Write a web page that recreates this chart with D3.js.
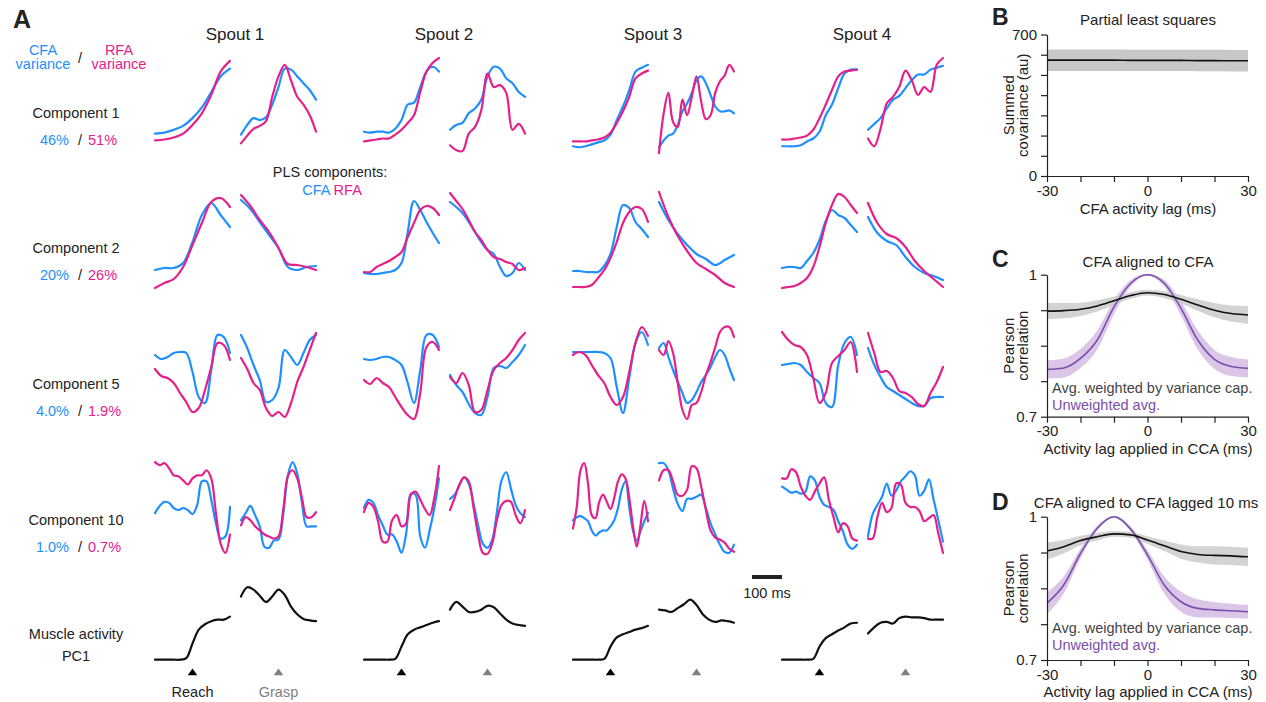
<!DOCTYPE html>
<html>
<head>
<meta charset="utf-8">
<script src="https://cdn.jsdelivr.net/npm/d3@7"></script>
<style>
  body { margin: 0; background: #fff; }
  text { font-family: "Liberation Sans", Arial, sans-serif; fill: #222; }
</style>
</head>
<body>
<svg id="fig" width="1266" height="702"></svg>
<script>
// ---- panel A labels
const SPOUTS = ['Spout 1', 'Spout 2', 'Spout 3', 'Spout 4']
const ROW_LABELS = ['Component 1', 'Component 2', 'Component 5', 'Component 10']
const CFA_VAR = ['46%', '20%', '4.0%', '1.0%']
const RFA_VAR = ['51%', '26%', '1.9%', '0.7%']

// ---- panel A traces, 0-100 within each row, segments: s1 reach, s1 grasp, s2 reach, ...
const comp1Cfa = [
  [22, 23, 26, 30, 38, 49, 65, 81, 89],
  [21, 31, 38, 36, 39, 52, 70, 89, 88, 81, 74, 67, 57],
  [24, 23, 24, 24, 23, 27, 36, 52, 54, 70, 86, 91, 86],
  [26, 31, 33, 43, 48, 57, 81, 91, 89, 79, 74, 65, 60],
  [9, 8, 9, 11, 13, 15, 21, 36, 50, 67, 86, 90, 93],
  [8, 15, 20, 22, 31, 45, 53, 64, 77, 81, 74, 62, 50, 45, 45, 46, 43],
  [9, 9, 9, 10, 14, 17, 24, 41, 52, 69, 84, 88, 88],
  [26, 32, 38, 48, 57, 61, 69, 77, 83, 83, 88, 90, 92]
]
const comp1Rfa = [
  [15, 16, 18, 22, 31, 43, 62, 86, 97],
  [12, 20, 27, 30, 35, 60, 81, 93, 77, 60, 52, 41, 24],
  [14, 15, 16, 17, 17, 21, 26, 33, 41, 65, 86, 95, 100],
  [10, 5, 4, 22, 29, 46, 84, 70, 72, 64, 26, 32, 22],
  [14, 14, 14, 15, 16, 18, 23, 33, 45, 60, 79, 84, 87],
  [2, 43, 64, 34, 29, 57, 41, 60, 81, 55, 37, 41, 64, 76, 82, 93, 86],
  [16, 16, 17, 18, 20, 26, 38, 52, 67, 81, 86, 87, 88],
  [17, 9, 27, 53, 60, 70, 87, 77, 62, 70, 65, 93, 100]
]
const comp2Cfa = [
  [20, 22, 22, 27, 48, 75, 87, 75, 63],
  [90, 81, 68, 55, 42, 23, 20, 23, 24],
  [17, 16, 16, 17, 18, 20, 27, 58, 89, 80, 68, 57, 47],
  [88, 83, 77, 68, 58, 48, 40, 36, 23, 14, 17, 27, 20],
  [19, 19, 18, 18, 18, 24, 36, 63, 85, 82, 68, 61, 53],
  [88, 70, 56, 45, 36, 31, 25, 30, 35],
  [22, 23, 23, 22, 29, 37, 50, 69, 80, 75, 72, 65, 58],
  [73, 57, 49, 45, 33, 23, 17, 14, 10]
]
const comp2Rfa = [
  [2, 7, 11, 23, 45, 67, 88, 92, 83],
  [95, 84, 70, 58, 42, 26, 25, 23, 20],
  [18, 18, 23, 26, 29, 33, 38, 53, 67, 80, 84, 82, 75],
  [97, 89, 81, 70, 58, 50, 40, 33, 31, 28, 26, 20, 22],
  [3, 3, 3, 5, 12, 20, 32, 48, 67, 78, 83, 81, 68],
  [98, 73, 54, 39, 27, 21, 15, 7, 3],
  [2, 3, 4, 7, 12, 23, 43, 67, 85, 96, 93, 85, 77],
  [87, 67, 56, 52, 43, 29, 19, 11, 3]
]
const comp5Cfa = [
  [70, 66, 68, 72, 73, 72, 53, 28, 22, 55, 90, 88, 72],
  [90, 77, 60, 45, 23, 25, 37, 75, 68, 60, 72, 85, 90],
  [66, 65, 66, 68, 68, 65, 60, 42, 22, 55, 90, 90, 78],
  [50, 40, 33, 21, 12, 10, 28, 57, 59, 57, 63, 70, 80],
  [73, 73, 73, 73, 73, 72, 67, 38, 12, 47, 82, 93, 80],
  [77, 82, 68, 55, 43, 32, 22, 25, 33, 43, 50, 58, 68, 75, 70, 57, 45],
  [60, 61, 62, 60, 53, 47, 42, 22, 18, 60, 82, 88, 70],
  [77, 60, 48, 38, 34, 30, 26, 22, 19, 19, 27, 28, 28]
]
const comp5Rfa = [
  [56, 49, 47, 42, 32, 23, 13, 17, 35, 58, 82, 80, 65],
  [67, 56, 42, 35, 17, 9, 13, 8, 22, 43, 58, 75, 92],
  [45, 41, 47, 42, 38, 28, 18, 10, 6, 32, 78, 83, 75],
  [48, 42, 52, 40, 13, 15, 35, 55, 62, 67, 75, 85, 92],
  [70, 73, 70, 60, 50, 42, 28, 20, 28, 53, 82, 98, 89],
  [75, 70, 84, 72, 42, 15, 6, 20, 22, 33, 50, 63, 78, 93, 98, 98, 88],
  [93, 85, 80, 78, 70, 47, 22, 32, 62, 69, 75, 83, 53],
  [92, 72, 53, 54, 47, 34, 32, 28, 21, 19, 32, 43, 58]
]
const comp10Cfa = [
  [46, 53, 57, 56, 51, 49, 51, 49, 45, 54, 77, 77, 59, 36, 21, 23, 52],
  [39, 46, 53, 44, 33, 13, 12, 19, 20, 44, 83, 96, 85, 56, 33, 33, 33],
  [51, 59, 56, 44, 34, 25, 25, 18, 7, 26, 65, 64, 23, 12, 29, 51, 80],
  [60, 64, 73, 81, 75, 56, 34, 16, 12, 20, 47, 78, 86, 70, 54, 46, 42],
  [39, 42, 43, 41, 38, 29, 24, 27, 29, 29, 33, 39, 51, 69, 77, 52, 29, 19, 28, 38, 46],
  [95, 95, 88, 70, 55, 48, 60, 60, 62, 64, 51, 36, 25, 15, 8, 7, 15],
  [72, 69, 66, 67, 65, 67, 82, 78, 62, 54, 52, 49, 38, 28, 15, 11, 15],
  [23, 45, 54, 62, 75, 63, 68, 77, 82, 87, 83, 63, 68, 79, 59, 39, 18]
]
const comp10Rfa = [
  [96, 93, 95, 90, 83, 82, 78, 74, 80, 83, 83, 88, 80, 46, 16, 7, 25],
  [34, 42, 39, 33, 29, 25, 23, 21, 23, 49, 82, 88, 80, 61, 42, 42, 47],
  [47, 56, 52, 38, 18, 18, 39, 44, 33, 36, 64, 67, 59, 50, 44, 61, 92],
  [49, 61, 74, 81, 77, 52, 25, 7, 6, 16, 39, 54, 58, 57, 44, 36, 49],
  [31, 52, 88, 95, 75, 44, 41, 57, 64, 57, 50, 61, 77, 84, 80, 61, 33, 13, 34, 58, 38],
  [78, 88, 88, 77, 64, 63, 69, 92, 90, 72, 49, 29, 22, 20, 17, 11, 8],
  [80, 80, 89, 86, 72, 63, 59, 67, 75, 81, 59, 42, 27, 36, 33, 21, 19],
  [21, 21, 42, 56, 47, 51, 75, 74, 56, 52, 52, 48, 38, 41, 44, 26, 7]
]
const musclePc1 = [
  [3, 3, 3, 3, 3, 5, 24, 42, 49, 53, 55, 55, 59],
  [85, 97, 94, 86, 78, 85, 94, 87, 72, 62, 56, 54, 53],
  [3, 3, 3, 3, 3, 4, 20, 36, 42, 45, 48, 51, 53],
  [68, 78, 72, 65, 65, 68, 73, 71, 63, 55, 50, 48, 47],
  [3, 3, 3, 3, 3, 4, 20, 32, 36, 39, 42, 44, 47],
  [68, 67, 65, 70, 75, 81, 74, 62, 55, 52, 54, 53, 51],
  [3, 3, 3, 3, 3, 4, 20, 31, 36, 41, 45, 50, 51],
  [37, 45, 51, 52, 50, 57, 59, 58, 58, 57, 55, 55, 55]
]

// ---- panels B-D
const lagMs = [-30, -25, -20, -15, -10, -5, 0, 5, 10, 15, 20, 25, 30]
const plsMean = [573, 573, 573, 573, 573, 572, 572, 572, 572, 571, 571, 570, 570]
const plsLo = [520, 520, 520, 520, 520, 519, 519, 519, 519, 518, 518, 517, 517]
const plsHi = [626, 626, 626, 626, 626, 625, 625, 625, 625, 624, 624, 623, 623]

const ccaWeighted = [0.923, 0.924, 0.927, 0.934, 0.945, 0.956, 0.962, 0.958, 0.948, 0.936, 0.925, 0.918, 0.915]
const ccaWeightedSe = [0.017, 0.016, 0.014, 0.012, 0.009, 0.007, 0.006, 0.007, 0.009, 0.012, 0.015, 0.017, 0.019]
const ccaUnweighted = [0.800, 0.803, 0.823, 0.862, 0.932, 0.982, 1.0, 0.982, 0.929, 0.862, 0.821, 0.806, 0.802]
const ccaUnweightedSe = [0.019, 0.02, 0.02, 0.02, 0.015, 0.007, 0.002, 0.007, 0.015, 0.02, 0.02, 0.02, 0.019]

const lagWeighted = [0.928, 0.937, 0.950, 0.958, 0.964, 0.962, 0.951, 0.939, 0.927, 0.921, 0.919, 0.918, 0.916]
const lagWeightedSe = [0.018, 0.014, 0.01, 0.008, 0.006, 0.006, 0.008, 0.011, 0.015, 0.017, 0.019, 0.019, 0.019]
const lagUnweighted = [0.819, 0.857, 0.923, 0.976, 1.0, 0.974, 0.92, 0.857, 0.822, 0.808, 0.805, 0.803, 0.801]
const lagUnweightedSe = [0.023, 0.018, 0.01, 0.005, 0.002, 0.005, 0.01, 0.018, 0.021, 0.019, 0.016, 0.015, 0.014]

// ---- styles
const CFA_COLOR = '#1e8fff'
const RFA_COLOR = '#e5208b'
const PURPLE = '#7a4fab'
const PURPLE_BAND = '#dcc6e8'
const GRAY_BAND = '#c8c8c8'
const SIDE_FONT = 15

const svg = d3.select('#fig')

// segment geometry (ms)
const SEG_SPAN = [-125, 125]
const SEG_WIDTH = 75
const SEG_GAP = 11
const spoutX = d3.scaleLinear().domain([0, 3]).range([155, 782])
const rowBands = [[155, 58], [290, 190], [425, 325], [560, 458], [662, 585]]

function segStart(k) {
  return spoutX(Math.floor(k / 2)) + (k % 2) * (SEG_WIDTH + SEG_GAP)
}

function drawTrace(values, k, band, color) {
  const x0 = segStart(k)
  const xScale = d3.scaleLinear().domain(SEG_SPAN).range([x0, x0 + SEG_WIDTH])
  const yScale = d3.scaleLinear().domain([0, 100]).range(band)
  const n = values.length
  const line = d3.line()
    .x((d, i) => xScale(SEG_SPAN[0] + (SEG_SPAN[1] - SEG_SPAN[0]) * i / (n - 1)))
    .y(d => yScale(d))
    .curve(d3.curveCatmullRom.alpha(0.5))
  svg.append('path')
    .attr('d', line(values))
    .attr('fill', 'none')
    .attr('stroke', color)
    .attr('stroke-width', 2.2)
    .attr('stroke-linejoin', 'round')
    .attr('stroke-linecap', 'round')
}

const rows = [[comp1Cfa, comp1Rfa], [comp2Cfa, comp2Rfa], [comp5Cfa, comp5Rfa], [comp10Cfa, comp10Rfa]]
rows.forEach((pair, r) => {
  for (let k = 0; k < 8; k++) {
    drawTrace(pair[0][k], k, rowBands[r], CFA_COLOR)
    drawTrace(pair[1][k], k, rowBands[r], RFA_COLOR)
  }
})
musclePc1.forEach((vals, k) => drawTrace(vals, k, rowBands[4], '#111'))

// helper for text
function label(x, y, str, opts = {}) {
  return svg.append('text')
    .attr('x', x).attr('y', y)
    .attr('text-anchor', opts.anchor || 'middle')
    .attr('font-size', opts.size || 14.5)
    .attr('font-weight', opts.weight || 'normal')
    .style('fill', opts.color || '#222')
    .text(str)
}

// panel A text
label(13, 28, 'A', { anchor: 'start', size: 25, weight: 'bold' })
SPOUTS.forEach((s, i) => label(spoutX(i) + 80, 40, s, { size: 17 }))
label(43, 55, 'CFA', { color: CFA_COLOR })
label(43, 69, 'variance', { color: CFA_COLOR })
label(80, 63, '/')
label(119, 55, 'RFA', { color: RFA_COLOR })
label(119, 69, 'variance', { color: RFA_COLOR })

const rowLabelY = [118, 253, 389, 525]
ROW_LABELS.forEach((s, r) => {
  label(76, rowLabelY[r], s)
  label(69, rowLabelY[r] + 27, CFA_VAR[r], { anchor: 'end', color: CFA_COLOR })
  label(80, rowLabelY[r] + 27, '/')
  label(88, rowLabelY[r] + 27, RFA_VAR[r], { anchor: 'start', color: RFA_COLOR })
})
label(76, 639, 'Muscle activity')
label(76, 661, 'PC1')

label(330, 177, 'PLS components:')
const pls = label(332, 195, '')
pls.append('tspan').style('fill', CFA_COLOR).text('CFA ')
pls.append('tspan').style('fill', RFA_COLOR).text('RFA')

// event markers
for (let k = 0; k < 8; k++) {
  const x0 = segStart(k)
  const xScale = d3.scaleLinear().domain(SEG_SPAN).range([x0, x0 + SEG_WIDTH])
  const cx = xScale(0)
  svg.append('path')
    .attr('d', d3.symbol(d3.symbolTriangle, 36)())
    .attr('transform', 'translate(' + cx + ',673) scale(1.05,0.85)')
    .attr('fill', k % 2 === 0 ? '#000' : '#808080')
}
label(segStart(0) + SEG_WIDTH / 2, 697, 'Reach')
label(segStart(1) + SEG_WIDTH / 2, 697, 'Grasp', { color: '#808080' })

// scale bar 100 ms
const barScale = d3.scaleLinear().domain([0, SEG_SPAN[1] - SEG_SPAN[0]]).range([0, SEG_WIDTH])
svg.append('line')
  .attr('x1', 752).attr('x2', 752 + barScale(100))
  .attr('y1', 577).attr('y2', 577)
  .attr('stroke', '#222').attr('stroke-width', 4)
label(752 + barScale(100) / 2, 598, '100 ms')

// ---- panels B, C, D
function drawPanel(cfg) {
  const x = d3.scaleLinear().domain([-30, 30]).range([1047, 1248])
  const y = d3.scaleLinear().domain(cfg.yDomain).range(cfg.yRange)
  const g = svg.append('g')

  cfg.series.forEach(s => {
    const area = d3.area()
      .x((d, i) => x(lagMs[i]))
      .y0((d, i) => y(s.lo[i]))
      .y1((d, i) => y(s.hi[i]))
      .curve(d3.curveMonotoneX)
    g.append('path').attr('d', area(s.mean)).attr('fill', s.band).attr('opacity', s.opacity || 1)
  })
  cfg.series.forEach(s => {
    const line = d3.line()
      .x((d, i) => x(lagMs[i]))
      .y(d => y(d))
      .curve(d3.curveMonotoneX)
    g.append('path').attr('d', line(s.mean)).attr('fill', 'none')
      .attr('stroke', s.color).attr('stroke-width', 1.6)
  })

  const yAxis = g.append('g')
    .attr('transform', 'translate(1047,0)')
    .call(d3.axisLeft(y).tickValues(cfg.yTicks).tickSize(6).tickSizeOuter(0).tickPadding(4)
      .tickFormat(d => cfg.yLabels.includes(d) ? cfg.yFormat(d) : ''))
  const xAxis = g.append('g')
    .attr('transform', 'translate(0,' + cfg.yRange[0] + ')')
    .call(d3.axisBottom(x).tickValues([-30, -20, -10, 0, 10, 20, 30]).tickSize(6).tickSizeOuter(0).tickPadding(3)
      .tickFormat(d => [-30, 0, 30].includes(d) ? d : ''))
  ;[yAxis, xAxis].forEach(a => {
    a.selectAll('path, line').attr('stroke', '#222').attr('stroke-width', 1.2)
    a.selectAll('text').attr('font-size', SIDE_FONT).attr('font-family', '"Liberation Sans", Arial, sans-serif').style('fill', '#222')
  })

  label(992, cfg.letterY, cfg.letter, { anchor: 'start', size: 23, weight: 'bold' })
  label(cfg.titleX, cfg.titleY, cfg.title, { size: SIDE_FONT })
  label(1148, cfg.xLabelY, cfg.xLabel, { size: SIDE_FONT })
  const yc = (cfg.yRange[0] + cfg.yRange[1]) / 2
  cfg.yLabel.forEach((s, i) => {
    svg.append('text')
      .attr('transform', 'translate(' + (1014 + i * 14) + ',' + yc + ') rotate(-90)')
      .attr('text-anchor', 'middle').attr('font-size', SIDE_FONT)
      .text(s)
  })
  if (cfg.legendY) {
    label(1052, cfg.legendY, 'Avg. weighted by variance cap.', { anchor: 'start', size: 14.5, color: '#444' })
    label(1052, cfg.legendY + 17, 'Unweighted avg.', { anchor: 'start', size: 14.5, color: PURPLE })
  }
}

const corrTicks = [0.7, 0.775, 0.85, 0.925, 1]
const bandOf = (m, se, sign) => m.map((v, i) => v + sign * se[i])

drawPanel({
  letter: 'B', letterY: 25, title: 'Partial least squares', titleX: 1148, titleY: 25,
  yDomain: [0, 700], yRange: [176, 34.5],
  yTicks: [0, 100, 200, 300, 400, 500, 600, 700], yLabels: [0, 700], yFormat: d => d,
  xLabel: 'CFA activity lag (ms)', xLabelY: 214,
  yLabel: ['Summed', 'covariance (au)'],
  series: [{ mean: plsMean, lo: plsLo, hi: plsHi, color: '#111', band: GRAY_BAND }]
})

drawPanel({
  letter: 'C', letterY: 267, title: 'CFA aligned to CFA', titleX: 1148, titleY: 267,
  yDomain: [0.7, 1], yRange: [416.7, 274.7],
  yTicks: corrTicks, yLabels: [0.7, 1], yFormat: d => d === 1 ? '1' : '0.7',
  xLabel: 'Activity lag applied in CCA (ms)', xLabelY: 454,
  yLabel: ['Pearson', 'correlation'], legendY: 393,
  series: [
    { mean: ccaUnweighted, lo: bandOf(ccaUnweighted, ccaUnweightedSe, -1), hi: bandOf(ccaUnweighted, ccaUnweightedSe, 1), color: PURPLE, band: PURPLE_BAND },
    { mean: ccaWeighted, lo: bandOf(ccaWeighted, ccaWeightedSe, -1), hi: bandOf(ccaWeighted, ccaWeightedSe, 1), color: '#111', band: GRAY_BAND, opacity: 0.8 }
  ]
})

drawPanel({
  letter: 'D', letterY: 510, title: 'CFA aligned to CFA lagged 10 ms', titleX: 1146, titleY: 508,
  yDomain: [0.7, 1], yRange: [660, 516.7],
  yTicks: corrTicks, yLabels: [0.7, 1], yFormat: d => d === 1 ? '1' : '0.7',
  xLabel: 'Activity lag applied in CCA (ms)', xLabelY: 697,
  yLabel: ['Pearson', 'correlation'], legendY: 633,
  series: [
    { mean: lagUnweighted, lo: bandOf(lagUnweighted, lagUnweightedSe, -1), hi: bandOf(lagUnweighted, lagUnweightedSe, 1), color: PURPLE, band: PURPLE_BAND },
    { mean: lagWeighted, lo: bandOf(lagWeighted, lagWeightedSe, -1), hi: bandOf(lagWeighted, lagWeightedSe, 1), color: '#111', band: GRAY_BAND, opacity: 0.8 }
  ]
})
</script>
</body>
</html>
